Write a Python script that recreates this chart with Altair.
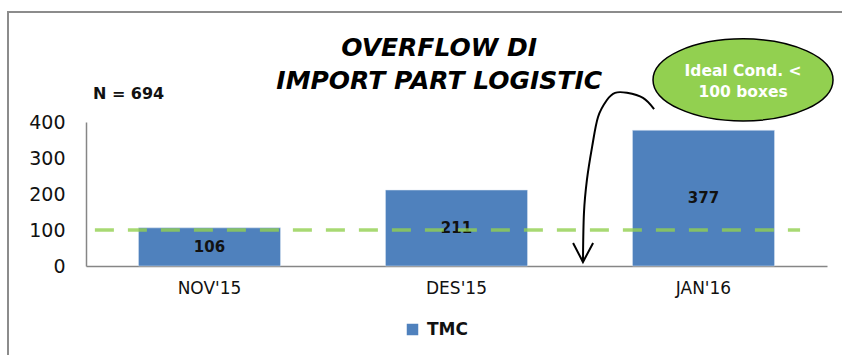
import altair as alt
import pandas as pd

# ---- data ----
months = ["NOV'15", "DES'15", "JAN'16"]
tmc_values = [106, 211, 377]
series_name = "TMC"

title_lines = ["OVERFLOW DI", "IMPORT PART LOGISTIC"]
ideal_value = 100  # ideal condition line

# annotation geometry in data units (x: category index, y: value units)
title_u = [0.93, 0.93]
title_v = [606, 514]
arrow_u = [1.800, 1.755, 1.690, 1.642, 1.609, 1.573, 1.549, 1.528, 1.516, 1.512]
arrow_v = [436, 467, 481, 481, 461, 414, 331, 239, 147, 11]
head_u = [1.472, 1.512, 1.553]
head_v = [64, 11, 64]
ellipse_u = [2.16]
ellipse_v = [517]
ellipse_lines = ["Ideal Cond. <", "100 boxes"]
ellipse_text_v = [541, 483]
n_label = ["N = 694"]
n_label_u = [-0.472]
n_label_v = [478]
ideal_span_u = [-0.464, 2.391]

FONT = "DejaVu Sans"
BLUE = "#4F81BD"
GREEN = "#92D050"

bars_df = pd.DataFrame({"month": months, "value": tmc_values, "series": [series_name] * 3})

W, H = 741, 144
yscale = alt.Scale(domain=[0, 400], nice=False, zero=True)
uscale = alt.Scale(domain=[-0.5, 2.5], nice=False, zero=False)
yaxis = alt.Axis(title=None, values=[0, 100, 200, 300, 400], grid=False, ticks=False,
                 labelOverlap=False, domainColor="#868686", domainWidth=1.5,
                 labelFont=FONT, labelFontSize=19, labelColor="#111111", labelPadding=21)


def Y(field):
    return alt.Y(field, scale=yscale, axis=yaxis)


xband = alt.X("month:N", sort=months,
              scale=alt.Scale(paddingInner=0.425, paddingOuter=0.2125),
              axis=alt.Axis(title=None, labelAngle=0, ticks=False, domainColor="#868686",
                            domainWidth=1.5, labelFont=FONT, labelFontSize=17,
                            labelColor="#111111", labelPadding=14))

bars = alt.Chart(bars_df).mark_bar(stroke="#DCE6F2", strokeWidth=0.5).encode(
    x=xband,
    y=Y("value:Q"),
    color=alt.Color("series:N", scale=alt.Scale(domain=[series_name], range=[BLUE]),
                    legend=alt.Legend(title=None, orient="none", legendX=318, legendY=199,
                                      symbolType="square", symbolSize=132, symbolStrokeWidth=0,
                                      labelFont=FONT, labelFontWeight="bold", labelFontSize=17,
                                      labelColor="#111111", labelOffset=6, padding=0)),
)

bar_labels = alt.Chart(bars_df).transform_calculate(mid="datum.value / 2").mark_text(
    font=FONT, fontWeight="bold", fontSize=15, color="#111111", baseline="middle"
).encode(x=xband, y=Y("mid:Q"), text="value:Q")

bar_part = alt.layer(bars, bar_labels)

U = alt.X("u:Q", scale=uscale, axis=None)

ideal_df = pd.DataFrame({"u": [ideal_span_u[0]], "u2": [ideal_span_u[1]], "v": [ideal_value]})
ideal = alt.Chart(ideal_df).mark_rule(color=GREEN, opacity=0.8, strokeWidth=3.5,
                                     strokeDash=[19, 14]).encode(x=U, x2="u2:Q", y=Y("v:Q"))

arrow_df = pd.DataFrame({"u": arrow_u, "v": arrow_v, "o": list(range(len(arrow_u)))})
arrow = alt.Chart(arrow_df).mark_line(color="black", strokeWidth=2, interpolate="cardinal").encode(
    x=U, y=Y("v:Q"), order="o:Q")

head_df = pd.DataFrame({"u": head_u, "v": head_v, "o": [0, 1, 2]})
head = alt.Chart(head_df).mark_line(color="black", strokeWidth=2).encode(
    x=U, y=Y("v:Q"), order="o:Q")

ell_path = "M -1 0 A 1 0.456 0 1 1 1 0 A 1 0.456 0 1 1 -1 0 Z"
ell_df = pd.DataFrame({"u": ellipse_u, "v": ellipse_v})
ellipse = alt.Chart(ell_df).mark_point(shape=ell_path, size=180 * 180, filled=True,
                                       fill=GREEN, stroke="black", strokeWidth=1.5,
                                       opacity=1).encode(x=U, y=Y("v:Q"))

etext_df = pd.DataFrame({"u": ellipse_u * 2, "v": ellipse_text_v, "t": ellipse_lines})
etext = alt.Chart(etext_df).mark_text(font=FONT, fontWeight="bold", fontSize=15.5,
                                      color="white", baseline="middle").encode(
    x=U, y=Y("v:Q"), text="t:N")

n_df = pd.DataFrame({"u": n_label_u, "v": n_label_v, "t": n_label})
ntext = alt.Chart(n_df).mark_text(font=FONT, fontWeight="bold", fontSize=16, color="#111111",
                                  align="left", baseline="middle").encode(
    x=U, y=Y("v:Q"), text="t:N")

title_df = pd.DataFrame({"u": title_u, "v": title_v, "t": title_lines})
ttext = alt.Chart(title_df).mark_text(font=FONT, fontWeight="bold", fontStyle="italic",
                                      fontSize=25, color="#000000", baseline="middle").encode(
    x=U, y=Y("v:Q"), text="t:N")

frame_df = pd.DataFrame({"a": [0]})
frame_top = alt.Chart(frame_df).mark_rule(color="#8C8C8C", strokeWidth=2).encode(
    x=alt.value(-78), x2=alt.value(760), y=alt.value(-110))
frame_left = alt.Chart(frame_df).mark_rule(color="#8C8C8C", strokeWidth=2).encode(
    x=alt.value(-78), y=alt.value(-111), y2=alt.value(240))

annot_part = alt.layer(ideal, arrow, head, ellipse, etext, ntext, ttext, frame_top, frame_left)

chart = alt.layer(bar_part, annot_part).resolve_scale(
    x="independent", color="independent"
).properties(
    width=W, height=H,
    autosize=alt.AutoSizeParams(type="none"),
    padding={"left": 86, "top": 122, "right": 15, "bottom": 89},
    background="white",
).configure_view(stroke=None)

chart.save("out.html", embed_options={"renderer": "svg", "actions": False})
